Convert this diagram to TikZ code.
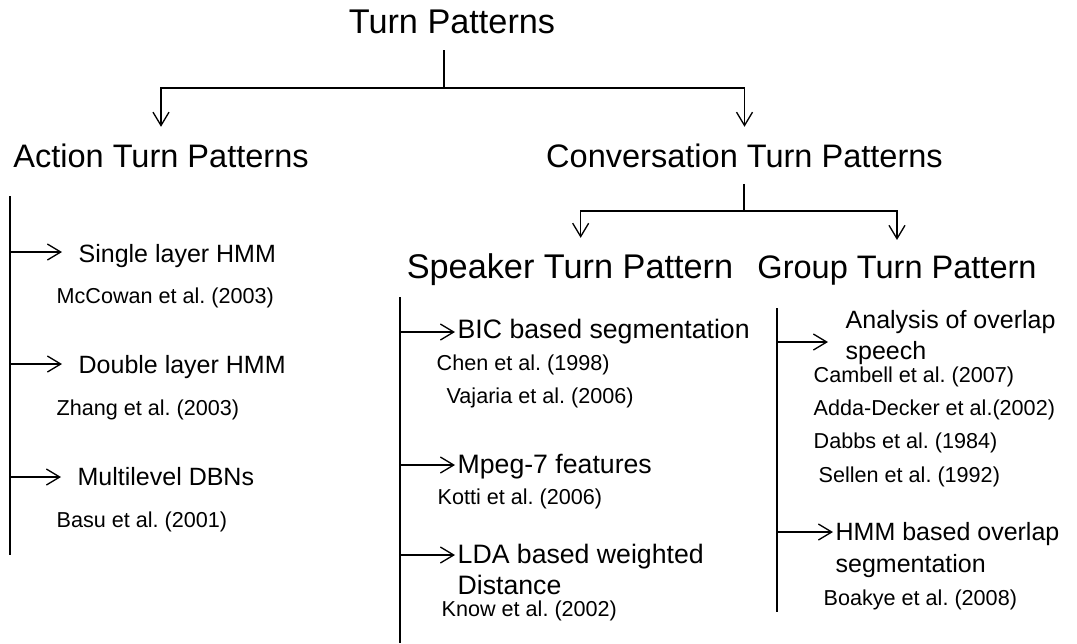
\documentclass[tikz,border=0pt]{standalone}
\usepackage{fontspec}
\setmainfont{Liberation Sans}
\usepackage{tikz}
\usetikzlibrary{arrows.meta}
\frenchspacing

\begin{document}
\begin{tikzpicture}[x=0.75pt, y=-0.75pt, line width=1pt, every node/.style={inner sep=0pt}]
\tikzset{head/.style={font=\fontsize{24.4pt}{29pt}\selectfont, anchor=base}}
\tikzset{bighead/.style={head, font=\fontsize{25.7pt}{30pt}\selectfont}}
\tikzset{item/.style={font=\fontsize{18.75pt}{22pt}\selectfont, anchor=base west}}
\tikzset{bigitem/.style={item, font=\fontsize{20pt}{24pt}\selectfont}}
\tikzset{cite/.style={font=\fontsize{16.2pt}{19pt}\selectfont, anchor=base west}}
\tikzset{arr/.style={-{Straight Barb[length=10pt,width=12pt]}}}
\useasboundingbox[fill=white] (0,0) rectangle (1077,643);
\node[bighead] (tp) at (452,33) {Turn Patterns};
\node[head] (atp) at (161,167) {Action Turn Patterns};
\node[head] (ctp) at (744.5,167) {Conversation Turn Patterns};
\node[bighead] (stp) at (570,278) {Speaker Turn Pattern};
\node[head] (gtp) at (897,278) {Group Turn Pattern};
\coordinate (j1) at (444,88);
\coordinate (j2) at (744,211);
\draw ([yshift=-12pt]tp.south -| j1) -- (j1);
\draw[arr, shorten >=12pt] (j1) -| (atp.north);
\draw[arr, shorten >=12pt] (j1) -| (ctp.north);
\draw ([yshift=-12pt]ctp.south -| j2) -- (j2);
\draw[arr, shorten >=11pt] (j2) -| ([xshift=8pt]stp.north);
\draw[arr, shorten >=11pt] (j2) -| (gtp.north);
\node[item] (sl) at (78,262) {Single layer HMM};
\node[cite] (mc) at (56,303) {McCowan et al. (2003)};
\node[item] (dl) at (78,373) {Double layer HMM};
\node[cite] (zh) at (56,415) {Zhang et al. (2003)};
\node[item] (md) at (77,485) {Multilevel DBNs};
\node[cite] (ba) at (56,527) {Basu et al. (2001)};
\coordinate (abar1) at (10,196);
\coordinate (abar2) at (10,555);
\coordinate (a1) at (10,252);
\coordinate (a2) at (10,364);
\coordinate (a3) at (10,477);
\draw (abar1) -- (abar2);
\draw[arr, shorten >=12pt] (a1) -- (a1 -| sl.west);
\draw[arr, shorten >=12pt] (a2) -- (a2 -| dl.west);
\draw[arr, shorten >=12pt] (a3) -- (a3 -| md.west);
\node[bigitem] (bic) at (457,338) {BIC based segmentation};
\node[cite] (ch) at (436,370) {Chen et al. (1998)};
\node[cite] (va) at (446,403) {Vajaria et al. (2006)};
\node[bigitem] (mp) at (457,473) {Mpeg-7 features};
\node[cite] (ko) at (437,504) {Kotti et al. (2006)};
\node[bigitem] (lda) at (457,563) {LDA based weighted};
\node[bigitem] (dis) at (457,594) {Distance};
\node[cite] (kn) at (441,616) {Know et al. (2002)};
\coordinate (sbar1) at (400,297);
\coordinate (sbar2) at (400,643);
\coordinate (s1) at (400,332);
\coordinate (s2) at (400,465);
\coordinate (s3) at (400,555);
\draw (sbar1) -- (sbar2);
\draw[arr, shorten >=1.5pt] (s1) -- (s1 -| bic.west);
\draw[arr, shorten >=1.5pt] (s2) -- (s2 -| mp.west);
\draw[arr, shorten >=1.5pt] (s3) -- (s3 -| lda.west);
\node[item] (ana) at (845,328) {Analysis of overlap};
\node[item] (sp) at (845,359) {speech};
\node[cite] (ca) at (813,382) {Cambell et al. (2007)};
\node[cite] (ad) at (813,415) {Adda-Decker et al.(2002)};
\node[cite] (da) at (813,448) {Dabbs et al. (1984)};
\node[cite] (se) at (818,482) {Sellen et al. (1992)};
\node[item] (hmm) at (835,540) {HMM based overlap};
\node[item] (seg) at (835,572) {segmentation};
\node[cite] (bo) at (823,605) {Boakye et al. (2008)};
\coordinate (gbar1) at (777,308);
\coordinate (gbar2) at (777,612);
\coordinate (g1) at (777,342);
\coordinate (g2) at (777,532);
\draw (gbar1) -- (gbar2);
\draw[arr, shorten >=12.75pt] (g1) -- (g1 -| ana.west);
\draw[arr, shorten >=1.5pt] (g2) -- (g2 -| hmm.west);
\end{tikzpicture}
\end{document}
